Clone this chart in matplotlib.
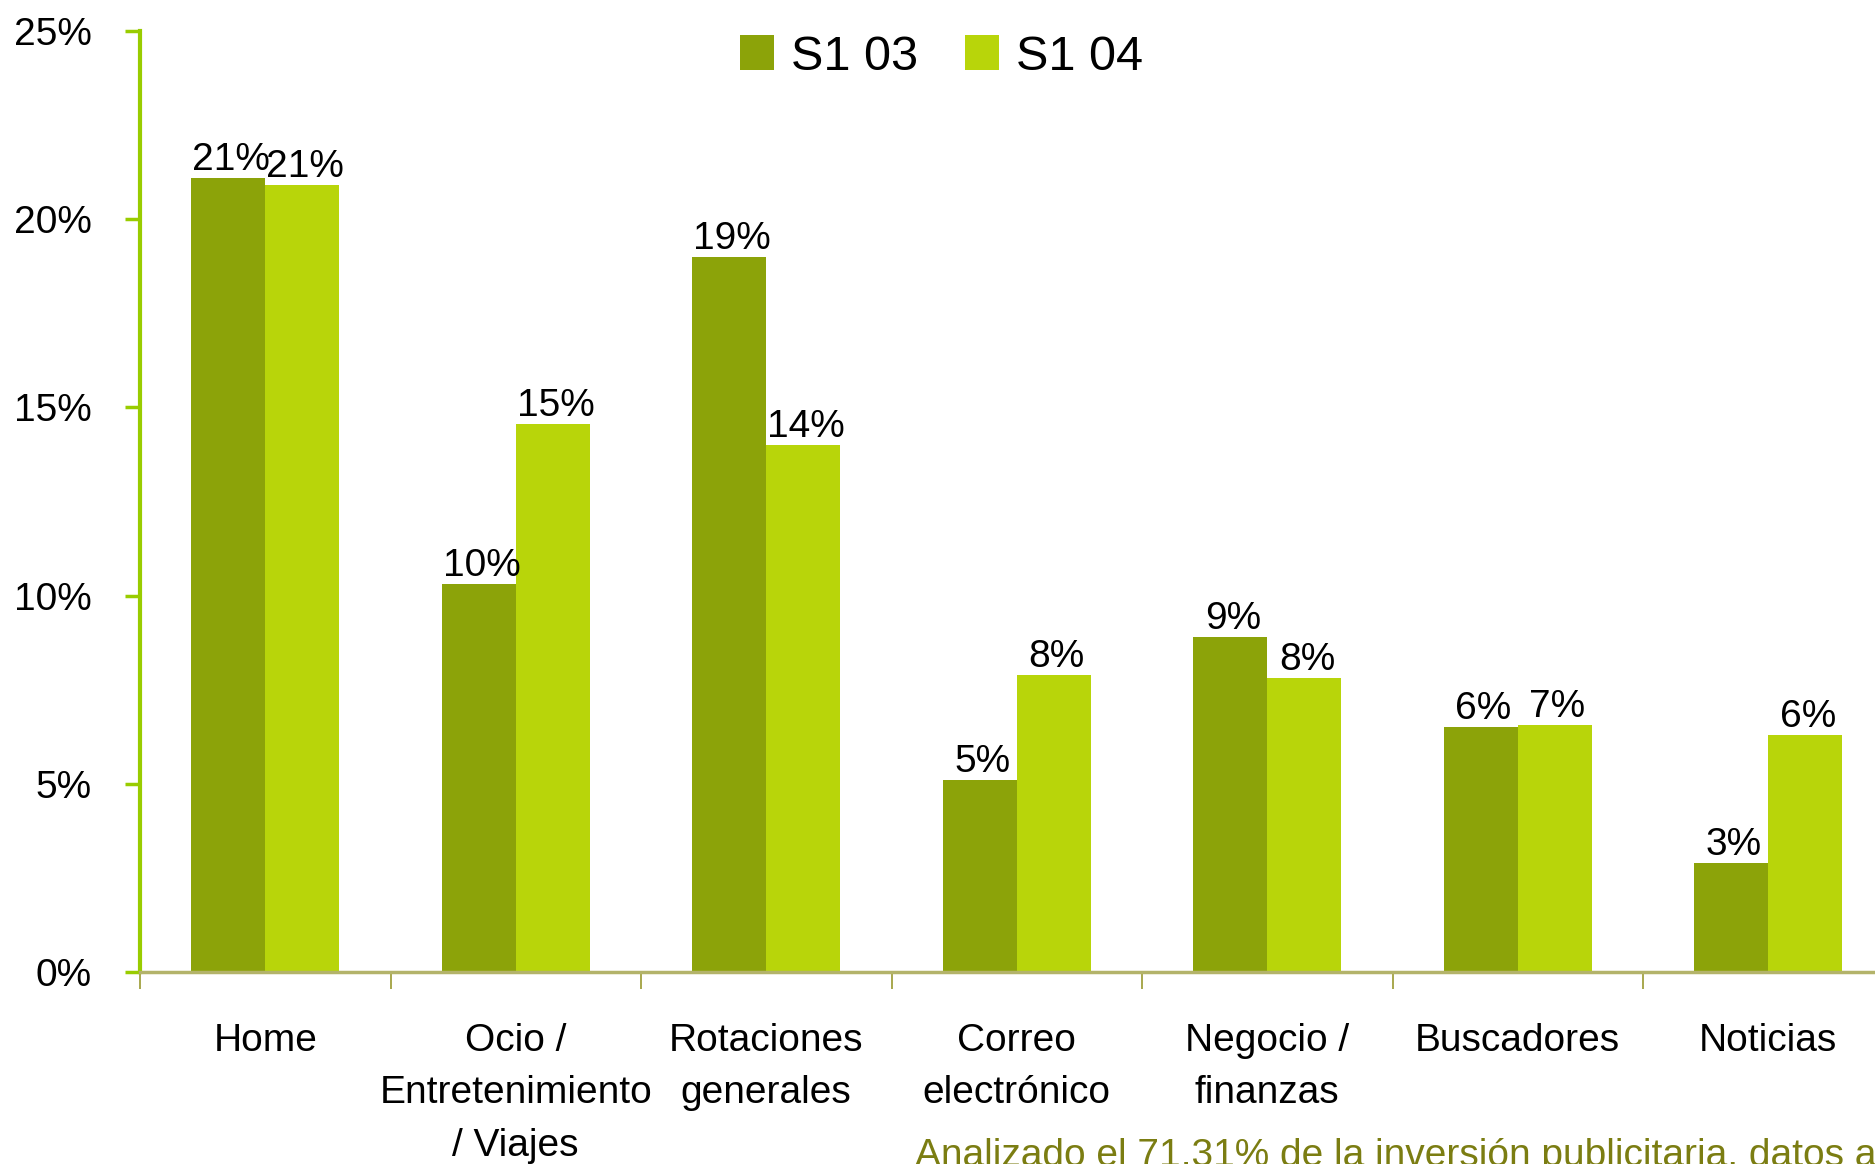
import matplotlib
matplotlib.use("Agg")
import matplotlib.pyplot as plt
import numpy as np

plt.rcParams['font.family'] = ['Liberation Sans', 'DejaVu Sans']

categories = ["Home", "Ocio /\nEntretenimiento\n/ Viajes", "Rotaciones\ngenerales",
              "Correo\nelectrónico", "Negocio /\nfinanzas", "Buscadores", "Noticias"]
s1_03 = [21.1, 10.3, 19.0, 5.1, 8.9, 6.5, 2.9]
s1_04 = [20.9, 14.55, 14.0, 7.9, 7.8, 6.55, 6.3]
labels_03 = ["21%", "10%", "19%", "5%", "9%", "6%", "3%"]
labels_04 = ["21%", "15%", "14%", "8%", "8%", "7%", "6%"]
yticks = [0, 5, 10, 15, 20, 25]
ytick_labels = ["0%", "5%", "10%", "15%", "20%", "25%"]
series_names = ["S1 03", "S1 04"]
note = "Analizado el 71,31% de la inversión publicitaria, datos auditados"

dark = "#8ca309"
light = "#b8d50a"

fig = plt.figure(figsize=(18.75, 11.64), dpi=100)
ax = fig.add_axes([140/1875, 1-972/1164, 1753.5/1875, (972-31)/1164])

x = np.arange(len(categories))
w = 0.295
b1 = ax.bar(x - w/2, s1_03, width=w, color=dark, label=series_names[0], zorder=2)
b2 = ax.bar(x + w/2, s1_04, width=w, color=light, label=series_names[1], zorder=2)

for bars, labs in ((b1, labels_03), (b2, labels_04)):
    for rect, lab in zip(bars, labs):
        ax.annotate(lab, (rect.get_x() + rect.get_width()/2, rect.get_height()),
                    xytext=(2, 0), textcoords="offset points",
                    ha="center", va="bottom", fontsize=28, color="black")

ax.set_xlim(-0.5, len(categories) - 0.5)
ax.set_ylim(0, 25)
ax.set_yticks(yticks)
ax.set_yticklabels(ytick_labels, fontsize=28)
ax.tick_params(axis='y', direction='out', length=11, width=2.5, color="#99cc00", pad=24)

ax.set_xticks(x)
ax.set_xticklabels(categories, fontsize=28, linespacing=1.6)
ax.set_xticks(np.arange(len(categories) + 1) - 0.5, minor=True)
ax.tick_params(axis='x', which='major', length=0, pad=36.5)
ax.tick_params(axis='x', which='minor', direction='out', length=12, width=1.2, color="#9a9a30")

for s in ("top", "right"):
    ax.spines[s].set_visible(False)
ax.spines["left"].set_color("#99cc00")
ax.spines["left"].set_linewidth(3)
ax.spines["bottom"].set_color("#b3b36a")
ax.spines["bottom"].set_linewidth(2.5)

fig.legend(handles=[b1, b2], labels=series_names, loc="center",
           bbox_to_anchor=(941.5/1875, 1-57/1164), ncol=2, frameon=False,
           fontsize=35, handlelength=0.7, handleheight=0.7,
           handletextpad=0.35, columnspacing=0.97)

fig.text(915/1875, 1-1166/1164, note, fontsize=28, color="#7b7d12",
         ha="left", va="baseline")

fig.savefig("out.png", dpi=100)
